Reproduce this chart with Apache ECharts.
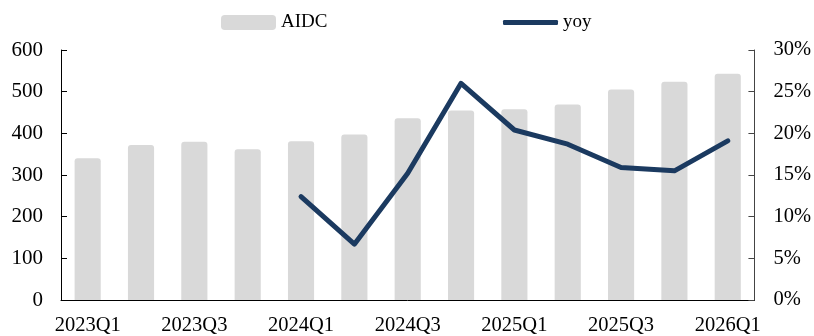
<!DOCTYPE html>
<html><head><meta charset="utf-8">
<script src="https://cdn.jsdelivr.net/npm/echarts@6/dist/echarts.min.js"></script>
<style>html,body{margin:0;padding:0;background:#fff}#c{width:814px;height:336px}</style>
</head><body><div id="c"></div>
<script>
const categories = ['2023Q1','2023Q2','2023Q3','2023Q4','2024Q1','2024Q2','2024Q3','2024Q4','2025Q1','2025Q2','2025Q3','2025Q4','2026Q1'];
const aidc = [340, 372, 380, 362, 381, 397, 436, 455, 458, 469, 505, 524, 543];
const yoy = [null, null, null, null, 12.4, 6.7, 15.2, 26.0, 20.4, 18.7, 15.9, 15.5, 19.1];
const leftTicks = [0, 600, 100];
const rightTicks = [0, 30, 5];

const font = 'Liberation Serif';
const chart = echarts.init(document.getElementById('c'));
chart.setOption({
  animation: false,
  textStyle: {fontFamily: font},
  legend: [
    {data: [{name: 'AIDC', icon: 'roundRect'}], left: 221, top: 13, padding: 0, itemWidth: 55, itemHeight: 15, textStyle: {fontFamily: font, fontSize: 19, color: '#000'}},
    {data: [{name: 'yoy', icon: 'roundRect'}], left: 503, top: 13, padding: 0, itemWidth: 55, itemHeight: 5, textStyle: {fontFamily: font, fontSize: 19, color: '#000'}}
  ],
  grid: {left: 61, right: 57, top: 50, bottom: 34},
  xAxis: {
    type: 'category', data: categories, boundaryGap: true,
    axisLine: {lineStyle: {color: '#000', width: 1}},
    axisTick: {inside: true, length: 6, lineStyle: {color: '#000'}},
    axisLabel: {interval: 1, color: '#000', fontSize: 20.5, fontFamily: font, margin: 15}
  },
  yAxis: [
    {type: 'value', min: leftTicks[0], max: leftTicks[1], interval: leftTicks[2], position: 'left',
     axisLine: {show: true, lineStyle: {color: '#000'}},
     axisTick: {show: true, inside: true, length: 6, lineStyle: {color: '#000'}},
     splitLine: {show: false},
     axisLabel: {color: '#000', fontSize: 21, fontFamily: font, margin: 18}},
    {type: 'value', min: rightTicks[0], max: rightTicks[1], interval: rightTicks[2], position: 'right',
     axisLine: {show: true, lineStyle: {color: '#444'}},
     axisTick: {show: true, inside: true, length: 6, lineStyle: {color: '#444'}},
     splitLine: {show: false},
     axisLabel: {color: '#000', fontSize: 20.5, fontFamily: font, margin: 19, formatter: v => v + '%'}}
  ],
  series: [
    {name: 'AIDC', type: 'bar', data: aidc, barWidth: '49%', itemStyle: {color: '#d9d9d9', borderRadius: [3,3,0,0]}, yAxisIndex: 0},
    {name: 'yoy', type: 'line', data: yoy, yAxisIndex: 1, showSymbol: false, symbol: 'none',
     lineStyle: {color: '#1b3a60', width: 5, cap: 'round', join: 'round'}, itemStyle: {color: '#1b3a60'}}
  ]
});
</script></body></html>
